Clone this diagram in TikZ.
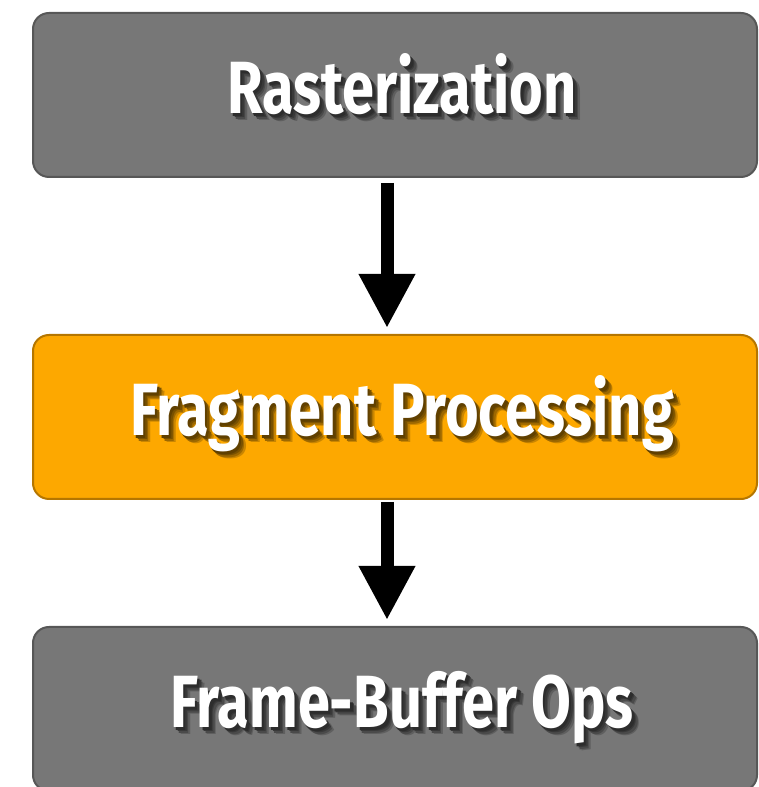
\documentclass[tikz,border=0pt]{standalone}
\usepackage{fontspec}
\newfontfamily\stagefont[FakeStretch=0.78]{Fira Sans}
\usetikzlibrary{arrows.meta,positioning}
\definecolor{stagegray}{HTML}{777777}
\definecolor{stageedge}{HTML}{575757}
\definecolor{fragfill}{HTML}{FDA800}
\definecolor{fragedge}{HTML}{B57600}

% white label with a soft dark shadow behind it
\newcommand\shadowed[2]{%
  \hspace*{14pt}%
  \rlap{\kern7pt\raisebox{-7pt}{\textcolor{black!20!#1}{#2}}}%
  \rlap{\kern5.5pt\raisebox{-5.5pt}{\textcolor{black!38!#1}{#2}}}%
  \rlap{\kern4pt\raisebox{-4pt}{\textcolor{black!52!#1}{#2}}}%
  \rlap{\kern2.5pt\raisebox{-2.5pt}{\textcolor{black!62!#1}{#2}}}%
  #2}

\begin{document}
\begin{tikzpicture}[x=1pt,y=1pt,
  stage/.style={draw=stageedge, fill=stagegray, line width=2pt, rounded corners=16pt,
                minimum width=724pt, minimum height=164pt, text=white,
                text height=50pt, text depth=12pt,
                font=\stagefont\bfseries\fontsize{74}{80}\selectfont},
  flow/.style={line width=13pt, -{Triangle[length=54pt,width=53pt]}}]
  \useasboundingbox (0,0) rectangle (759,787);
  \node[stage] (raster) at (395,692) {\shadowed{stagegray}{Rasterization}};
  \node[stage, draw=fragedge, fill=fragfill, below=156pt of raster] (frag)
    {\shadowed{fragfill}{Fragment Processing}};
  \node[stage, below=126pt of frag] (fbops) {\shadowed{stagegray}{Frame-Buffer Ops}};
  \draw[flow] ([xshift=-8pt,yshift=-5pt]raster.south) -- ([xshift=-8pt,yshift=6pt]frag.north);
  \draw[flow] ([xshift=-8pt,yshift=-2pt]frag.south) -- ([xshift=-8pt,yshift=6pt]fbops.north);
\end{tikzpicture}
\end{document}
